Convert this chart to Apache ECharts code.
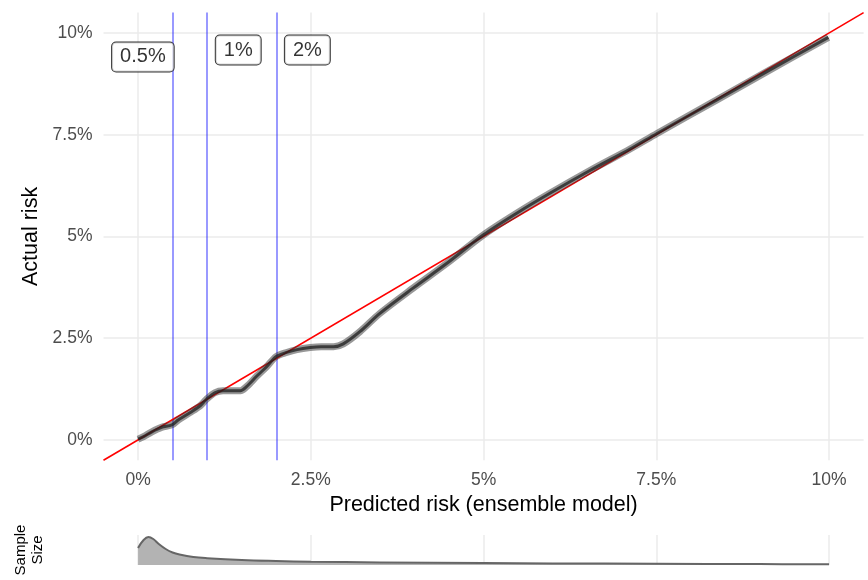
<!DOCTYPE html>
<html>
<head>
<meta charset="utf-8">
<script src="https://cdn.jsdelivr.net/npm/echarts@6/dist/echarts.min.js"></script>
<style>html,body{margin:0;padding:0;background:#fff;}#c{width:868px;height:580px;}</style>
</head>
<body>
<div id="c"></div>
<script>
// Calibration curve (percent)
const predictedRisk = [0, 0.08, 0.2, 0.34, 0.49, 0.58, 0.75, 0.9, 0.99, 1.11, 1.23, 1.35, 1.48, 1.57, 1.72, 1.86, 2.0, 2.15, 2.3, 2.49, 2.65, 2.83, 2.97, 3.21, 3.5, 3.98, 4.47, 5.0, 5.48, 5.96, 6.54, 7.12, 7.51, 8.37, 9.1, 9.99];
const actualRisk = [0.02, 0.08, 0.2, 0.31, 0.37, 0.49, 0.67, 0.84, 1.0, 1.16, 1.21, 1.21, 1.21, 1.31, 1.57, 1.80, 2.05, 2.15, 2.22, 2.27, 2.29, 2.29, 2.36, 2.66, 3.11, 3.73, 4.34, 5.04, 5.57, 6.06, 6.62, 7.15, 7.53, 8.35, 9.05, 9.89];
// Reference thresholds
const thresholds = [0.5, 1, 2];
const thresholdLabels = ['0.5%', '1%', '2%'];
const labelX = [0.07, 1.45, 2.45];
const labelY = [9.41, 9.58, 9.58];
// Sample-size density (relative)
const densityX = [0, 0.08, 0.15, 0.22, 0.3, 0.4, 0.5, 0.6, 0.8, 1.0, 1.5, 2.0, 2.5, 3.5, 5, 6, 7.5, 9, 10];
const densityY = [17, 25, 28, 26, 21, 16, 12.5, 10.5, 8, 6.8, 5, 4, 3.3, 2.6, 2, 1.6, 1.2, 0.9, 0.7];
// Axis ticks
const tickValues = [0, 2.5, 5, 7.5, 10];
const tickLabels = ['0%', '2.5%', '5%', '7.5%', '10%'];

const fmt = v => { const i = tickValues.indexOf(v); return i >= 0 ? tickLabels[i] : ''; };
const curve = predictedRisk.map((x, i) => [x, actualRisk[i]]);
const dens = densityX.map((x, i) => [x, densityY[i]]);
const labels = thresholdLabels.map((t, i) => ({ value: [labelX[i], labelY[i]], label: { formatter: t } }));

const gridCol = '#ebebeb';
const font = 'Liberation Sans, Arial, sans-serif';
const hidden = { axisLine: { show: false }, axisTick: { show: false }, axisLabel: { show: false }, splitLine: { show: false } };
const gridLines = (data) => ({ silent: true, z: 0, symbol: ['none', 'none'], label: { show: false },
  lineStyle: { color: gridCol, width: 1.5, type: 'solid' }, data: data });
const chart = echarts.init(document.getElementById('c'), null, { renderer: 'canvas' });
chart.setOption({
  animation: false,
  backgroundColor: '#fff',
  textStyle: { fontFamily: font },
  grid: [
    { left: 103.5, right: 4.4, top: 12.6, height: 447.7 },
    { left: 103.5, right: 4.4, top: 535, height: 30 }
  ],
  xAxis: [
    { gridIndex: 0, type: 'value', min: -0.5, max: 10.5,
      axisLine: { show: false }, axisTick: { show: false }, splitLine: { show: false },
      axisLabel: { color: '#4d4d4d', fontSize: 17.5, margin: 11, formatter: fmt, customValues: tickValues },
      name: 'Predicted risk (ensemble model)', nameLocation: 'middle', nameGap: 30,
      nameTextStyle: { color: '#000', fontSize: 21.5 } },
    Object.assign({ gridIndex: 1, type: 'value', min: -0.5, max: 10.5 }, hidden)
  ],
  yAxis: [
    { gridIndex: 0, type: 'value', min: -0.5, max: 10.5,
      axisLine: { show: false }, axisTick: { show: false }, splitLine: { show: false },
      axisLabel: { color: '#4d4d4d', fontSize: 17.5, margin: 11, formatter: fmt, customValues: tickValues },
      name: 'Actual risk', nameLocation: 'middle', nameGap: 57, nameRotate: 90,
      nameTextStyle: { color: '#000', fontSize: 21.5 } },
    Object.assign({ gridIndex: 1, type: 'value', min: 0, max: 30 }, hidden)
  ],
  graphic: [{
    type: 'text', x: 29, y: 550, rotation: Math.PI / 2,
    style: { text: 'Sample\nSize', fontSize: 15, fill: '#000', align: 'center',
      verticalAlign: 'middle', lineHeight: 17, fontFamily: font }
  }],
  series: [
    // panel gridlines (main)
    { type: 'line', xAxisIndex: 0, yAxisIndex: 0, data: [], z: 0,
      markLine: gridLines(tickValues.map(v => ({ xAxis: v })).concat(tickValues.map(v => ({ yAxis: v })))) },
    // panel gridlines (sample size)
    { type: 'line', xAxisIndex: 1, yAxisIndex: 1, data: [], z: 0,
      markLine: gridLines(tickValues.map(v => ({ xAxis: v }))) },
    { type: 'line', xAxisIndex: 0, yAxisIndex: 0, data: [[-0.5, -0.5], [10.5, 10.5]],
      showSymbol: false, lineStyle: { color: '#ff0000', width: 1.6 }, z: 3,
      markLine: { silent: true, z: 2, symbol: ['none', 'none'], label: { show: false },
        lineStyle: { color: 'rgba(0,0,255,0.5)', width: 1.6, type: 'solid' },
        data: thresholds.map(v => ({ xAxis: v })) } },
    { type: 'line', xAxisIndex: 0, yAxisIndex: 0, data: curve, smooth: 0.3, showSymbol: false,
      lineStyle: { color: 'rgba(50,50,50,0.5)', width: 7 }, z: 4 },
    { type: 'line', xAxisIndex: 0, yAxisIndex: 0, data: curve, smooth: 0.3, showSymbol: false,
      lineStyle: { color: 'rgba(30,30,30,0.75)', width: 3 }, z: 5 },
    { type: 'scatter', xAxisIndex: 0, yAxisIndex: 0, data: labels, symbolSize: 0, z: 10,
      label: { show: true, position: 'inside', color: '#000', fontSize: 20,
        backgroundColor: '#fff', borderColor: '#000', borderWidth: 1, borderRadius: 4,
        padding: [5, 8, 4, 8] } },
    { type: 'line', xAxisIndex: 1, yAxisIndex: 1, data: dens, smooth: 0.4, showSymbol: false, z: 5,
      lineStyle: { color: '#666666', width: 2 }, areaStyle: { color: '#b3b3b3', opacity: 1 } }
  ]
});
</script>
</body>
</html>
